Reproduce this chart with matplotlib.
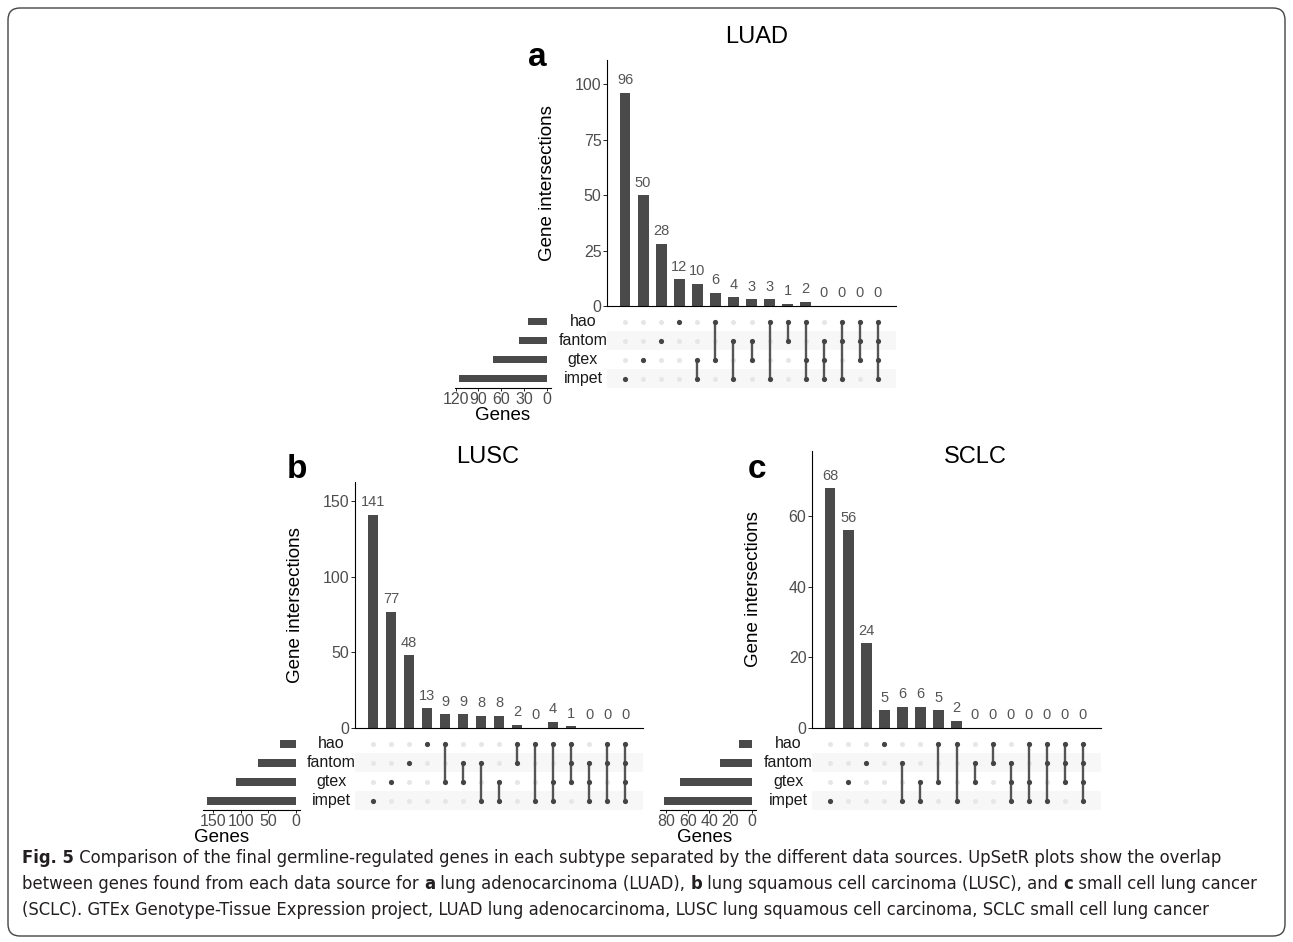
import matplotlib
matplotlib.use('Agg')
import matplotlib.pyplot as plt
from matplotlib.patches import FancyBboxPatch

plt.rcParams['font.family'] = ['Liberation Sans', 'DejaVu Sans']

# --- datos ---
sets = ['hao', 'fantom', 'gtex', 'impet']

luad_combos = [('impet',), ('gtex',), ('fantom',), ('hao',),
               ('gtex', 'impet'), ('hao', 'gtex'), ('fantom', 'impet'), ('fantom', 'gtex'),
               ('hao', 'impet'), ('hao', 'fantom'),
               ('hao', 'gtex', 'impet'), ('fantom', 'gtex', 'impet'), ('hao', 'fantom', 'impet'),
               ('hao', 'fantom', 'gtex'), ('hao', 'fantom', 'gtex', 'impet')]
luad_counts = [96, 50, 28, 12, 10, 6, 4, 3, 3, 1, 2, 0, 0, 0, 0]
luad_sizes = [24, 36, 71, 115]
luad_yticks = [0, 25, 50, 75, 100]
luad_sticks = [0, 30, 60, 90, 120]

lusc_combos = [('impet',), ('gtex',), ('fantom',), ('hao',),
               ('hao', 'gtex'), ('fantom', 'gtex'), ('fantom', 'impet'), ('gtex', 'impet'),
               ('hao', 'fantom'), ('hao', 'impet'),
               ('hao', 'gtex', 'impet'), ('hao', 'fantom', 'gtex'), ('fantom', 'gtex', 'impet'),
               ('hao', 'fantom', 'impet'), ('hao', 'fantom', 'gtex', 'impet')]
lusc_counts = [141, 77, 48, 13, 9, 9, 8, 8, 2, 0, 4, 1, 0, 0, 0]
lusc_sizes = [29, 68, 108, 161]
lusc_yticks = [0, 50, 100, 150]
lusc_sticks = [0, 50, 100, 150]

sclc_combos = [('impet',), ('gtex',), ('fantom',), ('hao',),
               ('fantom', 'impet'), ('gtex', 'impet'), ('hao', 'gtex'), ('hao', 'impet'),
               ('fantom', 'gtex'), ('hao', 'fantom'),
               ('fantom', 'gtex', 'impet'), ('hao', 'gtex', 'impet'), ('hao', 'fantom', 'impet'),
               ('hao', 'fantom', 'gtex'), ('hao', 'fantom', 'gtex', 'impet')]
sclc_counts = [68, 56, 24, 5, 6, 6, 5, 2, 0, 0, 0, 0, 0, 0, 0]
sclc_sizes = [12, 30, 67, 82]
sclc_yticks = [0, 20, 40, 60]
sclc_sticks = [0, 20, 40, 60, 80]

caption = [
    [("Fig. 5", True), (" Comparison of the final germline-regulated genes in each subtype separated by the different data sources. UpSetR plots show the overlap", False)],
    [("between genes found from each data source for ", False), ("a", True), (" lung adenocarcinoma (LUAD), ", False),
     ("b", True), (" lung squamous cell carcinoma (LUSC), and ", False), ("c", True), (" small cell lung cancer", False)],
    [("(SCLC). GTEx Genotype-Tissue Expression project, LUAD lung adenocarcinoma, LUSC lung squamous cell carcinoma, SCLC small cell lung cancer", False)],
]

W, H = 1293, 942
BAR = '#4a4a4a'
GREY_TXT = '#4d4d4d'

fig = plt.figure(figsize=(W / 100, H / 100), dpi=100)


def box(x0, y0, x1, y1):
    return [x0 / W, 1 - y1 / H, (x1 - x0) / W, (y1 - y0) / H]


def ftext(x, y, s, **kw):
    return fig.text(x / W, 1 - y / H, s, **kw)


def panel(letter, title, combos, counts, sizes, yticks, sticks,
          x0, x1, ytop, ybase, mtop, mbot, sx0, sx1, letter_xy, title_xy, ylab_x, genes_x):
    n = len(counts)
    top = max(counts) * 1.155

    # barras de intersecciones
    ax = fig.add_axes(box(x0, ytop, x1, ybase))
    ax.bar(range(n), counts, width=0.6, color=BAR)
    for i, c in enumerate(counts):
        ax.annotate(str(c), (i, c), xytext=(0, 4), textcoords='offset points',
                    ha='center', va='bottom', fontsize=10.5, color='#555555', annotation_clip=False)
    ax.set_xlim(-1, n)
    ax.set_ylim(0, top)
    ax.set_xticks([])
    ax.set_yticks(yticks)
    ax.tick_params(axis='y', length=3, width=0.6, labelsize=11.5, labelcolor=GREY_TXT, pad=1)
    for s in ['top', 'right']:
        ax.spines[s].set_visible(False)
    ax.spines['left'].set_linewidth(0.8)
    ax.spines['bottom'].set_linewidth(0.8)

    # matriz
    axm = fig.add_axes(box(x0, mtop, x1, mbot))
    axm.set_xlim(-1, n)
    axm.set_ylim(len(sets) - 0.5, -0.5)
    for r in range(len(sets)):
        if r % 2 == 1:
            axm.axhspan(r - 0.5, r + 0.5, color='#f7f7f7', lw=0, zorder=0)
    for i, combo in enumerate(combos):
        axm.scatter([i] * len(sets), range(len(sets)), s=13, color='#e6e6e6', lw=0, zorder=1)
        rows = [sets.index(k) for k in combo]
        if len(rows) > 1:
            axm.plot([i, i], [min(rows), max(rows)], color='#555555', lw=1.7, zorder=2)
        axm.scatter([i] * len(rows), rows, s=14, color='#444444', lw=0, zorder=3)
    axm.axis('off')

    # tamaños de conjuntos
    axs = fig.add_axes(box(sx0, mtop, sx1, mbot))
    axs.barh(range(len(sets)), sizes, height=0.42, color=BAR)
    mx = max(sizes)
    axs.set_xlim(mx * 1.05, -mx * 0.05)
    axs.set_ylim(len(sets) - 0.5, -0.5)
    axs.set_yticks([])
    axs.set_xticks(sticks)
    axs.tick_params(axis='x', length=2, width=0.6, labelsize=11.5, labelcolor=GREY_TXT, pad=1)
    for s in ['top', 'right', 'left']:
        axs.spines[s].set_visible(False)
    axs.spines['bottom'].set_linewidth(0.8)

    # nombres de los conjuntos
    step = (mbot - mtop) / len(sets)
    cx = (sx1 + x0) / 2 + 4
    for r, name in enumerate(sets):
        ftext(cx, mtop + step * (r + 0.5), name, fontsize=11.5, ha='center', va='center', color='#1a1a1a')

    ftext(genes_x, mbot + 27, 'Genes', fontsize=13.5, ha='center', va='center')
    ftext(ylab_x, (ytop + ybase) / 2, 'Gene intersections', fontsize=13.5, rotation=90,
          ha='center', va='center')
    ftext(*title_xy, title, fontsize=17, ha='center', va='center')
    ftext(*letter_xy, letter, fontsize=24, fontweight='bold', ha='center', va='center')


panel('a', 'LUAD', luad_combos, luad_counts, luad_sizes, luad_yticks, luad_sticks,
      607, 896, 60, 306, 312, 388, 455, 551, (537, 58), (757, 37), 548, 503)
panel('b', 'LUSC', lusc_combos, lusc_counts, lusc_sizes, lusc_yticks, lusc_sticks,
      355, 643, 482, 728, 734.5, 810, 203, 300, (297, 470), (488, 457), 295, 222)
panel('c', 'SCLC', sclc_combos, sclc_counts, sclc_sizes, sclc_yticks, sclc_sticks,
      812, 1101, 451, 728, 734.5, 810, 660, 756, (757, 470), (975, 457), 753, 705)

# marco redondeado
frame = FancyBboxPatch((0.08, 0.06), 12.77, 9.28, boxstyle='round,pad=0,rounding_size=0.12',
                       transform=fig.dpi_scale_trans, fill=False, ec='#444444', lw=1.0)
fig.patches.append(frame)

# pie de figura con partes en negrita
renderer = fig.canvas.get_renderer()
cap_fam = ['DejaVu Sans']


def width_of(s, bold, size):
    kw = dict(fontsize=size, family=cap_fam, fontstretch='condensed',
              fontweight='bold' if bold else 'normal')
    t = fig.text(0, 0, '|' + s + '|', **kw)
    t2 = fig.text(0, 0, '||', **kw)
    w = t.get_window_extent(renderer).width - t2.get_window_extent(renderer).width
    t.remove()
    t2.remove()
    return w


w2 = sum(width_of(s, b, 10) for s, b in caption[1])
cap_size = 10 * 1240 / w2

for k, line in enumerate(caption):
    x = 22
    y = 858 + 26 * k
    for s, b in line:
        ftext(x, y, s, fontsize=cap_size, family=cap_fam, fontstretch='condensed',
              fontweight='bold' if b else 'normal', ha='left', va='center', color='#231f20')
        x += width_of(s, b, cap_size)

fig.savefig('out.png', dpi=100)
